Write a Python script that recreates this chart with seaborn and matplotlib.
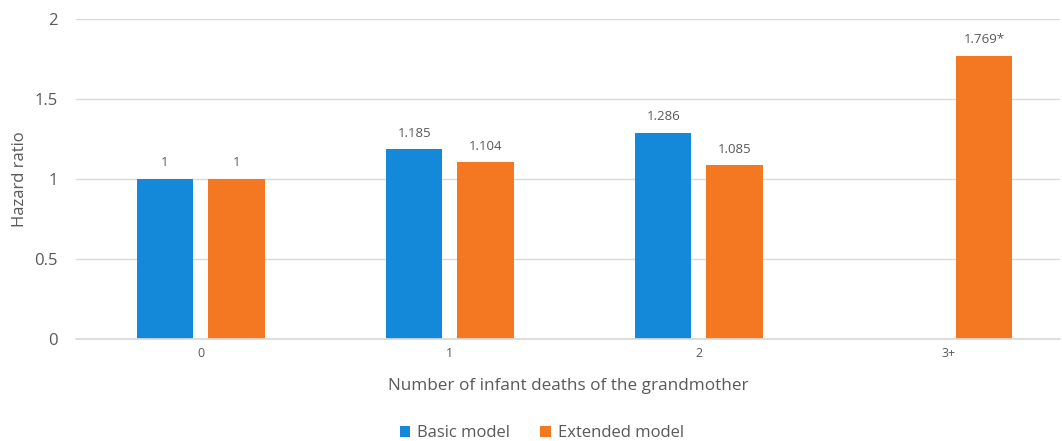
import numpy as np
import pandas as pd
import matplotlib
matplotlib.use("Agg")
import matplotlib.pyplot as plt
import seaborn as sns

categories = ["0", "1", "2", "3+"]
basic_model = [1.0, 1.185, 1.286, np.nan]
extended_model = [1.0, 1.104, 1.085, 1.769]
basic_labels = ["1", "1.185", "1.286", ""]
extended_labels = ["1", "1.104", "1.085", "1.769*"]
series_names = ["Basic model", "Extended model"]
y_ticks = [0, 0.5, 1, 1.5, 2]
y_tick_labels = ["0", "0.5", "1", "1.5", "2"]

sns.set_theme(style="white")
plt.rcParams["font.family"] = ["Open Sans", "DejaVu Sans"]

df = pd.DataFrame({
    "category": categories * 2,
    "model": [series_names[0]] * 4 + [series_names[1]] * 4,
    "value": basic_model + extended_model,
})

colors = ["#1589D9", "#F47721"]
text_color = "#595959"
grid_color = "#D9D9D9"

fig = plt.figure(figsize=(10.62, 4.41), dpi=100)
ax = fig.add_axes([0.0716, 0.2313, 0.9268, 0.7257])

sns.barplot(data=df, x="category", y="value", hue="model", order=categories,
            hue_order=series_names, palette=colors, width=0.573, gap=0.21,
            saturation=1, linewidth=0, ax=ax, legend=True)

# value labels above each drawn bar
for container, values, labels in zip(ax.containers, [basic_model, extended_model],
                                     [basic_labels, extended_labels]):
    bars = [b for b in container.patches if b is not None]
    shown = [(v, t) for v, t in zip(values, labels) if not np.isnan(v)]
    for bar, (v, t) in zip(bars, shown):
        ax.annotate(t, (bar.get_x() + bar.get_width() / 2, bar.get_height()),
                    xytext=(0, 7), textcoords="offset points", ha="center",
                    va="bottom", fontsize=9.5, color=text_color)

ax.set_ylim(0, 2)
ax.set_xlim(-0.5, 3.45)
ax.set_yticks(y_ticks)
ax.set_yticklabels(y_tick_labels)
ax.yaxis.grid(True, color=grid_color, linewidth=1)
ax.set_axisbelow(True)
for side in ["top", "right", "left"]:
    ax.spines[side].set_visible(False)
ax.spines["bottom"].set_color(grid_color)
ax.tick_params(axis="y", length=0, pad=13, labelsize=12, labelcolor=text_color)
ax.tick_params(axis="x", length=0, pad=6, labelsize=9, labelcolor=text_color)

ax.set_xlabel("Number of infant deaths of the grandmother", fontsize=12.3,
              color=text_color, labelpad=13)
ax.set_ylabel("Hazard ratio", fontsize=12, color=text_color, labelpad=5)

ax.legend(loc="center", bbox_to_anchor=(0.473, -0.294), ncol=2, frameon=False,
          fontsize=12, labelcolor=text_color, handlelength=0.65, handleheight=0.65,
          handletextpad=0.4, columnspacing=1.8)

fig.savefig("out.png", dpi=100)
